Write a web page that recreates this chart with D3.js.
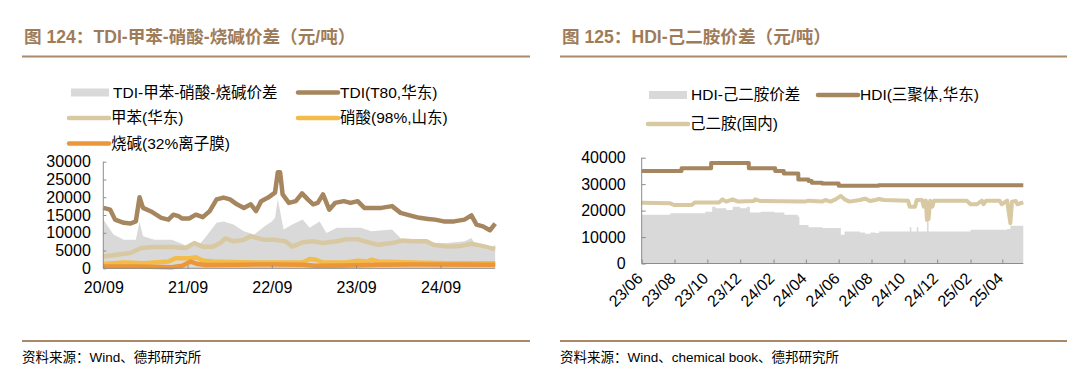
<!DOCTYPE html>
<html>
<head>
<meta charset="utf-8">
<style>
  body { margin: 0; background: #fff; }
  svg text { font-family: "Liberation Sans", Arial, "Noto Sans CJK SC", sans-serif; fill: #000; }
  .title { font-size: 17.6px; font-weight: bold; fill: #9f7c59; }
  .legend text { font-size: 15.5px; }
  .axis text { font-size: 16px; }
  .axis path, .axis line { stroke: #8c8c8c; }
  .source { font-size: 13.5px; }
</style>
<script src="https://d3js.org/d3.v7.min.js"></script>
</head>
<body>
<svg width="1080" height="382"></svg>
<script>
var parse = d3.timeParse("%Y-%m-%d");

// ---- left chart: TDI - toluene - nitric acid - caustic soda (yuan/t)
var tdiSpread = [["2020-09-01",13700],["2020-10-15",9500],["2020-11-29",8000],["2021-01-20",8000],["2021-02-05",13200],["2021-02-20",9000],["2021-04-11",8000],["2021-06-25",8000],["2021-09-08",6100],["2021-10-22",6600],["2021-11-21",9000],["2022-01-05",12800],["2022-02-04",13200],["2022-03-19",12300],["2022-05-03",10400],["2022-06-17",9500],["2022-08-01",11800],["2022-09-01",13200],["2022-09-15",14200],["2022-09-27",19400],["2022-10-07",16100],["2022-10-22",10900],["2022-11-29",12300],["2023-01-13",13700],["2023-02-12",11400],["2023-03-27",13200],["2023-04-26",9900],["2023-06-10",11400],["2023-07-10",11400],["2023-09-22",11400],["2023-11-06",10400],["2024-02-04",10900],["2024-03-19",8000],["2024-06-02",7600],["2024-08-01",7100],["2024-09-30",7100],["2024-12-14",7600],["2025-01-13",8500],["2025-02-04",6100],["2025-03-27",5200],["2025-04-26",6600]];
var tdiPrice = [["2020-09-01",17000],["2020-10-01",16500],["2020-10-22",13700],["2020-11-29",12800],["2020-12-28",12600],["2021-01-20",13200],["2021-02-05",20000],["2021-02-20",17000],["2021-03-27",16000],["2021-05-10",14200],["2021-06-10",13700],["2021-07-02",15100],["2021-07-24",14700],["2021-08-09",14000],["2021-09-08",14000],["2021-10-07",15100],["2021-11-06",14400],["2021-12-06",16100],["2022-01-05",19400],["2022-02-04",19900],["2022-03-04",19400],["2022-04-03",18000],["2022-05-03",17000],["2022-06-02",18000],["2022-06-25",16100],["2022-07-17",18900],["2022-08-16",19900],["2022-09-15",21300],["2022-09-27",27000],["2022-10-07",27000],["2022-10-18",20800],["2022-11-14",18400],["2022-12-14",18900],["2023-01-10",21100],["2023-02-04",19400],["2023-02-27",18000],["2023-03-19",18400],["2023-04-11",20800],["2023-05-08",16500],["2023-06-02",18400],["2023-07-10",18900],["2023-08-08",18400],["2023-09-08",18900],["2023-10-07",17000],["2023-11-06",17000],["2023-12-20",17000],["2024-02-04",17500],["2024-03-12",15600],["2024-05-03",14700],["2024-06-02",14200],["2024-07-09",13900],["2024-08-08",13700],["2024-09-15",13200],["2024-10-30",13200],["2024-12-14",13700],["2025-01-13",14900],["2025-02-04",12300],["2025-03-04",11800],["2025-04-03",10700],["2025-04-26",12600]];
var toluene = [["2020-09-01",3300],["2020-10-30",3800],["2020-12-28",4300],["2021-02-12",5700],["2021-04-11",6000],["2021-06-25",6000],["2021-08-24",5700],["2021-09-30",7100],["2021-11-06",6100],["2021-12-21",6100],["2022-01-20",7100],["2022-02-12",8400],["2022-03-19",7600],["2022-05-03",8000],["2022-06-02",9000],["2022-07-02",8500],["2022-08-01",8000],["2022-09-15",8000],["2022-10-30",7600],["2022-11-29",6100],["2023-01-13",7300],["2023-02-27",7600],["2023-04-11",7100],["2023-06-10",7600],["2023-07-24",8200],["2023-09-08",8200],["2023-10-07",7600],["2023-12-06",6600],["2024-02-04",7100],["2024-03-19",7800],["2024-05-03",7600],["2024-07-02",7600],["2024-08-01",6600],["2024-09-30",6100],["2024-11-29",6300],["2025-01-13",6900],["2025-02-27",6300],["2025-04-26",5400]];
var nitric = [["2020-09-01",1200],["2020-11-29",1600],["2021-02-27",1400],["2021-06-10",1900],["2021-07-10",2800],["2021-09-08",2800],["2021-10-07",3100],["2021-11-06",2200],["2021-12-21",1900],["2022-04-18",1700],["2022-09-15",1600],["2023-01-13",1600],["2023-02-12",2600],["2023-03-12",2400],["2023-04-11",1600],["2023-07-10",1600],["2023-09-08",2100],["2023-10-22",1900],["2023-11-06",2400],["2023-12-06",1900],["2024-05-03",1600],["2024-09-30",1400],["2025-04-26",1400]];
var caustic = [["2020-09-01",500],["2021-01-28",500],["2021-06-25",300],["2021-08-09",700],["2021-09-15",1900],["2021-10-15",1200],["2021-11-21",900],["2022-04-18",1000],["2022-09-15",1100],["2023-01-13",1000],["2023-03-12",700],["2023-07-10",800],["2023-12-06",1000],["2024-05-03",1100],["2025-04-26",1000]];
var leftTicks = ["2020-09-01","2021-09-01","2022-09-01","2023-09-01","2024-09-01"];

// ---- right chart: HDI - hexamethylenediamine (yuan/t)
var hdiSpread = [["2023-06-01",18400],["2023-07-24",19000],["2023-09-27",19600],["2023-10-10",21500],["2023-10-16",20900],["2023-11-05",20250],["2023-11-17",21500],["2023-12-01",20900],["2023-12-13",21500],["2023-12-19",19250],["2024-01-08",19600],["2024-02-02",19250],["2024-02-21",18400],["2024-03-17",17750],["2024-03-20",14600],["2024-04-06",13750],["2024-05-01",13400],["2024-05-26",13400],["2024-06-05",10900],["2024-06-12",12100],["2024-07-10",11750],["2024-07-20",11250],["2024-07-30",11750],["2024-08-08",11500],["2024-08-15",12100],["2024-10-08",12100],["2024-10-11",13750],["2024-10-14",12100],["2024-10-24",13750],["2024-10-27",12100],["2024-11-12",15900],["2024-11-15",12100],["2025-01-25",12100],["2025-02-01",12750],["2025-04-10",13000],["2025-04-16",14250],["2025-05-10",13000]];
var hdiPrice = [["2023-06-01",35000],["2023-08-14",36000],["2023-10-08",38000],["2023-12-17",36000],["2024-02-04",35000],["2024-02-20",34000],["2024-03-18",31800],["2024-04-06",31200],["2024-04-12",30500],["2024-05-01",30200],["2024-06-01",29400],["2024-08-14",29600],["2025-05-10",29600]];
var hmda = [["2023-06-01",23000],["2023-07-24",22750],["2023-07-31",22100],["2023-09-02",22100],["2023-09-08",23100],["2023-10-23",23100],["2023-10-29",24250],["2023-11-05",23400],["2023-11-17",24250],["2023-11-27",23400],["2023-12-26",23600],["2023-12-29",24250],["2024-01-08",23600],["2024-03-30",23400],["2024-04-06",23750],["2024-05-01",23400],["2024-05-07",24000],["2024-05-17",23400],["2024-05-26",24250],["2024-06-05",25500],["2024-06-12",24250],["2024-06-21",23400],["2024-07-10",24000],["2024-07-20",24500],["2024-07-30",23600],["2024-08-08",24000],["2024-08-15",24400],["2024-08-24",24000],["2024-10-08",23750],["2024-10-11",21500],["2024-10-21",21500],["2024-10-24",24000],["2024-11-03",24000],["2024-11-06",21500],["2024-11-10",23750],["2024-11-12",16500],["2024-11-15",16750],["2024-11-18",23750],["2024-11-22",21500],["2024-11-25",23750],["2025-01-25",23750],["2025-02-01",22400],["2025-02-13",22400],["2025-02-22",23750],["2025-02-25",22400],["2025-03-02",23750],["2025-03-27",23750],["2025-03-31",22400],["2025-04-10",23750],["2025-04-16",15250],["2025-04-19",23400],["2025-04-26",23600],["2025-04-29",22400],["2025-05-10",23100]];
var rightTicks = ["2023-06-01","2023-08-01","2023-10-01","2023-12-01","2024-02-01","2024-04-01","2024-06-01","2024-08-01","2024-10-01","2024-12-01","2025-02-01","2025-04-01"];

var cGray = "#d9d9d9", cBrown = "#a5865f", cTan = "#d8c9a3", cYellow = "#f2bb4a", cOrange = "#ec9638";

var svg = d3.select("svg");

function header(x, x2, title, source) {
    svg.append("text").attr("class", "title").attr("x", x + 2).attr("y", 43).text(title);
    svg.append("line").attr("x1", x).attr("x2", x2).attr("y1", 56.5).attr("y2", 56.5)
        .attr("stroke", "#a88a6a").attr("stroke-width", 2);
    svg.append("line").attr("x1", x).attr("x2", x2).attr("y1", 341).attr("y2", 341)
        .attr("stroke", "#a88a6a").attr("stroke-width", 2);
    svg.append("text").attr("class", "source").attr("x", x).attr("y", 362).text(source);
}

function legendItem(g, x, y, label, color, isArea) {
    if (isArea) {
        g.append("rect").attr("x", x).attr("y", y - 4).attr("width", 38).attr("height", 8).attr("fill", color);
    } else {
        g.append("line").attr("x1", x).attr("x2", x + 40).attr("y1", y).attr("y2", y)
            .attr("stroke", color).attr("stroke-width", 4.5).attr("stroke-linecap", "round");
    }
    g.append("text").attr("x", x + 42).attr("y", y).attr("dy", "0.35em").text(label);
}

function toPts(arr) { return arr.map(function(d) { return [parse(d[0]), d[1]]; }); }

// ================= left chart
header(22, 530, "图 124：TDI-甲苯-硝酸-烧碱价差（元/吨）", "资料来源：Wind、德邦研究所");

var lg = svg.append("g").attr("class", "legend");
legendItem(lg, 71, 92.5, "TDI-甲苯-硝酸-烧碱价差", cGray, true);
legendItem(lg, 298, 92.5, "TDI(T80,华东)", cBrown);
legendItem(lg, 69, 118, "甲苯(华东)", cTan);
legendItem(lg, 298, 118, "硝酸(98%,山东)", cYellow);
legendItem(lg, 69, 143.5, "烧碱(32%离子膜)", cOrange);

var x1 = d3.scaleTime().domain([parse("2020-09-01"), parse("2024-09-01")]).range([103.3, 440.5]);
var xEnd1 = x1(parse("2025-04-26"));
var y1 = d3.scaleLinear().domain([0, 30000]).range([268.3, 161.7]);

var area1 = d3.area().x(function(d) { return x1(d[0]); }).y0(y1(0)).y1(function(d) { return y1(d[1]); });
var line1 = d3.line().x(function(d) { return x1(d[0]); }).y(function(d) { return y1(d[1]); });

svg.append("path").datum(toPts(tdiSpread)).attr("d", area1).attr("fill", cGray);
[[tdiPrice, cBrown], [toluene, cTan], [nitric, cYellow], [caustic, cOrange]].forEach(function(s) {
    svg.append("path").datum(toPts(s[0])).attr("d", line1).attr("fill", "none")
        .attr("stroke", s[1]).attr("stroke-width", 4.5).attr("stroke-linejoin", "round");
});

svg.append("g").attr("class", "axis").attr("transform", "translate(103.3,0)")
    .call(d3.axisLeft(y1).tickValues(d3.range(0, 30001, 5000)).tickSize(-3).tickPadding(12.5).tickFormat(d3.format("d")))
    .call(function(g) { g.select(".domain").attr("d", "M0,161.7V268.3"); });

svg.append("g").attr("class", "axis").attr("transform", "translate(0,268.3)")
    .call(d3.axisBottom(x1).tickValues(leftTicks.map(parse)).tickSize(-3).tickPadding(13.5).tickFormat(d3.timeFormat("%y/%m")))
    .call(function(g) { g.select(".domain").attr("d", "M103.3,0H" + xEnd1); });

// ================= right chart
header(560, 1067, "图 125：HDI-己二胺价差（元/吨）", "资料来源：Wind、chemical book、德邦研究所");

var rg = svg.append("g").attr("class", "legend");
legendItem(rg, 649, 95, "HDI-己二胺价差", cGray, true);
legendItem(rg, 818, 95, "HDI(三聚体,华东)", cBrown);
legendItem(rg, 648, 124, "己二胺(国内)", cTan);

var x2 = d3.scaleTime().domain([parse("2023-06-01"), parse("2025-04-01")]).range([641.7, 1002.3]);
var xEnd2 = x2(parse("2025-05-10"));
var y2 = d3.scaleLinear().domain([0, 40000]).range([263.5, 157.7]);

var area2 = d3.area().curve(d3.curveStepAfter).x(function(d) { return x2(d[0]); }).y0(y2(0)).y1(function(d) { return y2(d[1]); });
var line2 = d3.line().x(function(d) { return x2(d[0]); }).y(function(d) { return y2(d[1]); });
var step2 = d3.line().curve(d3.curveStepAfter).x(function(d) { return x2(d[0]); }).y(function(d) { return y2(d[1]); });

svg.append("path").datum(toPts(hdiSpread)).attr("d", area2).attr("fill", cGray);
svg.append("path").datum(toPts(hdiPrice)).attr("d", step2).attr("fill", "none")
    .attr("stroke", cBrown).attr("stroke-width", 4).attr("stroke-linejoin", "round");
svg.append("path").datum(toPts(hmda)).attr("d", line2).attr("fill", "none")
    .attr("stroke", cTan).attr("stroke-width", 4).attr("stroke-linejoin", "round");

svg.append("g").attr("class", "axis").attr("transform", "translate(641.7,0)")
    .call(d3.axisLeft(y2).tickValues(d3.range(0, 40001, 10000)).tickSize(-4).tickPadding(16).tickFormat(d3.format("d")))
    .call(function(g) { g.select(".domain").attr("d", "M0,157.7V263.5"); });

svg.append("g").attr("class", "axis").attr("transform", "translate(0,263.5)")
    .call(d3.axisBottom(x2).tickValues(rightTicks.map(parse)).tickSize(-4).tickFormat(d3.timeFormat("%y/%m")))
    .call(function(g) {
        g.select(".domain").attr("d", "M641.7,0H" + xEnd2);
        g.selectAll(".tick text").attr("y", 0).attr("dy", 0).attr("text-anchor", "end")
            .attr("transform", "translate(1.5,16) rotate(-45)");
    });
</script>
</body>
</html>
